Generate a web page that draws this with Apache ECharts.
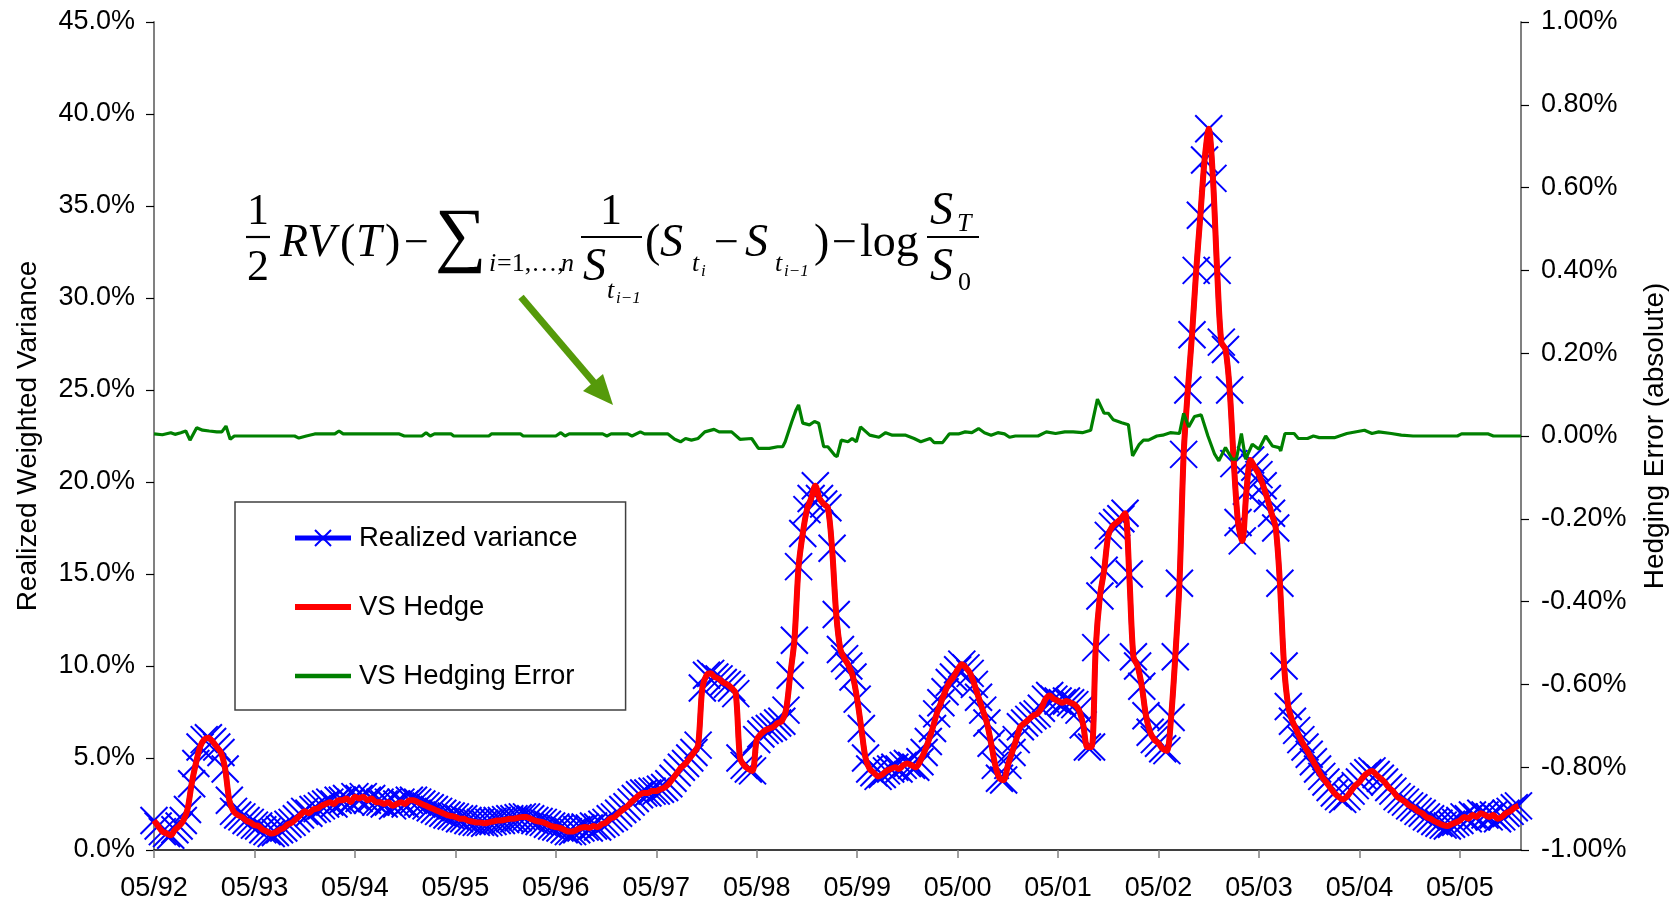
<!DOCTYPE html>
<html>
<head>
<meta charset="utf-8">
<script src="https://cdn.jsdelivr.net/npm/echarts@6/dist/echarts.min.js"></script>
<style>html,body{margin:0;padding:0;background:#fff}#c{width:1677px;height:906px}</style>
</head>
<body>
<div id="c"></div>
<script>
// ---------------- DATA ----------------
// x = months since May 1992; realized variance sampled every half month (values in %)
const rvStartMonth = 0;
const rvStepMonths = 0.5;
const realizedVariance = [
  // 05/92 - 04/93
  1.6,1.3,1.0,0.9,0.8,1.1,1.3,1.6,2.2,3.6,4.7,5.6,6.0,6.1,5.9,5.6,5.3,4.4,2.7,2.1,1.9,1.8,1.6,1.5,
  // 05/93 - 04/94
  1.35,1.3,1.1,1.0,0.9,0.95,1.1,1.2,1.4,1.5,1.7,1.9,2.1,2.0,2.2,2.25,2.4,2.5,2.6,2.5,2.7,2.7,2.8,2.6,
  // 05/94 - 04/95
  2.9,2.8,2.9,2.7,2.8,2.6,2.6,2.5,2.6,2.4,2.5,2.6,2.5,2.7,2.7,2.6,2.5,2.4,2.3,2.2,2.1,2.0,1.9,1.85,
  // 05/95 - 04/96
  1.8,1.7,1.7,1.6,1.55,1.5,1.5,1.45,1.5,1.55,1.6,1.6,1.65,1.7,1.7,1.75,1.8,1.8,1.7,1.6,1.55,1.5,1.4,1.3,
  // 05/96 - 04/97
  1.25,1.2,1.1,1.0,1.0,1.1,1.2,1.25,1.2,1.3,1.25,1.4,1.5,1.7,1.8,2.0,2.2,2.35,2.6,2.8,3.0,3.1,3.1,3.2,
  // 05/97 - 04/98
  3.2,3.3,3.4,3.6,3.9,4.2,4.5,4.7,5.0,5.3,5.7,8.8,9.5,9.6,9.4,9.3,9.1,9.0,8.8,8.5,5.0,4.6,4.4,4.3,
  // 05/98 - 04/99
  6.0,6.3,6.5,6.6,6.7,6.9,7.0,7.6,9.5,11.4,15.4,17.2,18.5,19.1,19.8,19.1,18.8,18.6,16.4,12.8,10.9,10.4,10.0,9.4,
  // 05/99 - 04/00
  8.2,6.6,5.0,4.4,4.2,4.0,4.1,4.3,4.4,4.5,4.4,4.6,4.7,4.6,4.5,4.8,5.3,5.9,6.6,7.4,8.0,8.6,9.1,9.4,
  // 05/00 - 04/01
  9.8,10.1,9.9,9.6,9.0,8.3,7.6,6.9,5.8,4.6,3.9,3.8,4.6,5.3,6.0,6.7,6.9,7.1,7.3,7.4,7.7,8.2,8.4,8.2,
  // 05/01 - 04/02
  8.1,8.0,8.1,8.0,7.9,7.6,6.8,5.6,5.6,11.0,13.8,15.2,17.1,17.6,17.8,18.0,18.3,15.0,10.5,10.0,8.9,7.3,6.4,6.0,
  // 05/02 - 04/03
  5.8,5.5,5.4,7.2,10.5,14.5,21.5,25.0,28.0,31.5,34.5,37.5,39.2,36.5,31.5,27.6,27.2,25.0,21.0,17.8,16.8,19.5,21.2,20.8,
  // 05/03 - 04/04
  20.4,19.8,19.1,18.3,17.5,14.5,10.0,7.8,7.0,6.5,6.0,5.6,5.2,4.8,4.4,4.0,3.7,3.4,3.1,2.9,2.75,2.9,3.2,3.5,
  // 05/04 - 04/05
  3.7,4.0,4.2,4.3,4.1,3.9,3.7,3.4,3.2,2.9,2.75,2.6,2.4,2.3,2.1,2.0,1.8,1.7,1.55,1.45,1.35,1.3,1.4,1.5,
  // 05/05 - 12/05
  1.6,1.8,1.7,1.9,1.8,2.0,1.9,1.8,1.9,1.7,1.8,2.0,2.1,2.3,2.4
];
// The VS hedge curve coincides with the realized variance at this scale
const vsHedge = realizedVariance;

// Hedging error (right axis, %), months since May 1992
const errMonths = [0,1,2,2.5,3.2,3.8,4.3,5.1,5.8,6.6,7.5,8.1,8.6,9.1,9.6,16.8,17.3,18.2,19.2,21.6,22.1,22.6,29.3,29.9,32,32.5,33,33.5,35.5,35.8,40,40.3,43.8,44.1,48,48.6,49.1,49.6,53.6,54.1,54.6,56.6,57.1,58.1,58.6,61.4,62.2,62.9,63.5,64.2,65,65.8,66.9,67.5,69,70,71.4,72.2,73.5,74.5,75.1,75.4,76.2,76.7,77,77.5,78.3,78.9,79.4,80,80.5,81.3,81.6,82.1,82.9,83.4,83.9,84.4,85.5,86.6,87.4,88.2,89.8,90.8,91.6,92.7,93.2,94.2,95,96.1,96.9,97.7,98.5,99.2,100,100.8,101.6,102.2,102.9,105.6,106.6,107.7,108.8,109.8,110.9,111.9,112.7,113.5,114,114.6,115.6,116.4,116.9,117.7,118.2,118.8,119.8,120.5,121.4,122.5,123,123.6,124.3,125.1,125.9,126.7,127.2,128,128.8,129.3,129.9,130.4,131.2,132,132.8,133.6,134.4,134.6,135.1,136.2,136.7,137.8,138.5,139.2,141,142.5,144.6,145.5,146.3,147.8,149,150.4,155.7,156.2,159.4,160,163.3];
const errValues = [0.005,0.003,0.008,0.004,0.008,0.012,-0.01,0.02,0.014,0.012,0.01,0.01,0.024,-0.008,0,0,-0.005,0,0.005,0.005,0.012,0.005,0.005,0,0,0.008,0,0.005,0.005,0,0,0.005,0.005,0,0,0.008,0,0.005,0.005,0,0.005,0.005,0,0.01,0.005,0.005,-0.008,-0.014,-0.006,-0.01,-0.006,0.01,0.016,0.01,0.01,-0.008,-0.006,-0.03,-0.03,-0.026,-0.026,-0.014,0.035,0.063,0.075,0.031,0.027,0.035,0.031,-0.026,-0.026,-0.046,-0.05,-0.01,-0.014,-0.006,-0.014,0.022,0.002,-0.003,0.008,0.002,0.002,-0.006,-0.014,-0.006,-0.016,-0.016,0.005,0.005,0.01,0.008,0.018,0.008,0.002,0.008,0.005,-0.003,0,0,0.01,0.006,0.01,0.01,0.008,0.014,0.089,0.055,0.055,0.039,0.032,0.027,-0.048,-0.02,-0.01,-0.01,0,0.002,0.008,0.006,0.055,0.022,0.047,0.051,0,-0.044,-0.06,-0.028,-0.056,-0.056,0.006,-0.056,-0.02,-0.032,0,-0.024,-0.028,-0.036,0.006,0.006,-0.006,-0.006,0,-0.004,-0.004,0.006,0.014,0.006,0.01,0.006,0.002,0,0,0.005,0.005,0,0];

const xTickLabels = ['05/92','05/93','05/94','05/95','05/96','05/97','05/98','05/99','05/00','05/01','05/02','05/03','05/04','05/05'];
const seriesNames = ['Realized variance','VS Hedge','VS Hedging Error'];

// ---------------- CHART ----------------
const SANS = '"Liberation Sans", Arial, sans-serif';
const SERIF = '"Liberation Serif", "Times New Roman", serif';

const rvData = realizedVariance.map((v, i) => [rvStartMonth + i * rvStepMonths, v]);
const hedgeData = vsHedge.map((v, i) => [rvStartMonth + i * rvStepMonths, v]);
const errData = errMonths.map((m, i) => [m, errValues[i]]);

function T(text, x, y, size, italic, align) {
  const a = align || 'left';
  return {type: 'text', x: x, y: y, z: 100,
    style: {text: text, font: (italic ? 'italic ' : '') + size + 'px ' + SERIF, fill: '#000',
      align: a, verticalAlign: 'middle', textAlign: a, textVerticalAlign: 'middle'}};
}
function L(x1, y1, x2, y2, w, c) {
  return {type: 'line', z: 100, shape: {x1, y1, x2, y2}, style: {stroke: c || '#000', lineWidth: w}};
}

const formula = [
  T('1', 258, 212, 44, false, 'center'),
  L(246, 237, 270, 237, 2.2),
  T('2', 258, 268, 44, false, 'center'),
  T('RV', 280, 244, 46, true),
  T('(', 340, 244, 46, false),
  T('T', 356, 244, 46, true),
  T(')', 385, 244, 46, false),
  T('\u2212', 404, 244, 44, false),
  T('\u2211', 435, 239, 72, false),
  T('i', 489, 264, 26, true),
  T('=1,\u2026,', 497, 264, 26, false),
  T('n', 561, 264, 26, true),
  T('1', 611, 212, 44, false, 'center'),
  L(581, 237, 642, 237, 2.2),
  T('S', 583, 268, 46, true),
  T('t', 607, 291, 26, true),
  T('i\u22121', 616, 299, 17, true),
  T('(', 645, 244, 46, false),
  T('S', 660, 244, 46, true),
  T('t', 692, 264, 26, true),
  T('i', 701, 272, 17, true),
  T('\u2212', 714, 244, 44, false),
  T('S', 745, 244, 46, true),
  T('t', 775, 264, 26, true),
  T('i\u22121', 784, 272, 17, true),
  T(')', 814, 244, 46, false),
  T('\u2212', 832, 244, 44, false),
  T('log', 860, 244, 46, false),
  T('S', 930, 212, 46, true),
  T('T', 957, 224, 26, true),
  L(927, 237, 979, 237, 2.2),
  T('S', 930, 268, 46, true),
  T('0', 958, 283, 26, false)
];

// green arrow
const arrowColor = '#559A0A';
const arrow = [
  L(521, 297, 596, 385, 7, arrowColor),
  {type: 'polygon', z: 100, shape: {points: [[613, 405], [583, 391], [603, 374]]}, style: {fill: arrowColor}}
];

const chart = echarts.init(document.getElementById('c'), null, {renderer: 'canvas'});
chart.setOption({
  animation: false,
  backgroundColor: '#fff',
  textStyle: {fontFamily: SANS},
  grid: {left: 154, right: 154, top: 22, bottom: 56, containLabel: false},
  legend: {
    orient: 'vertical', left: 235, top: 502,
    padding: [22, 48, 20, 57],
    itemGap: 41, itemWidth: 56, itemHeight: 20,
    backgroundColor: '#fff', borderColor: '#404040', borderWidth: 1.5, borderRadius: 0,
    textStyle: {fontSize: 27.5, color: '#000', fontFamily: SANS, padding: [0, 0, 0, 3]},
    data: [
      {name: seriesNames[0], lineStyle: {width: 5, color: '#0000FF'}},
      {name: seriesNames[1], lineStyle: {width: 6, color: '#FF0000'}, itemStyle: {opacity: 0}},
      {name: seriesNames[2], lineStyle: {width: 4.5, color: '#008000'}, itemStyle: {opacity: 0}}
    ]
  },
  xAxis: {
    type: 'value', min: 0, max: 163.3, interval: 12,
    axisLine: {show: true, onZero: false, lineStyle: {color: '#000', width: 1.5}},
    axisTick: {show: true, length: 8, lineStyle: {color: '#808080', width: 1.5}},
    axisLabel: {
      formatter: v => { const k = Math.round(v / 12); return (Math.abs(v - k * 12) < 1e-6 && xTickLabels[k]) ? xTickLabels[k] : ''; },
      showMaxLabel: false, margin: 25, fontSize: 27, color: '#000', fontFamily: SANS
    },
    splitLine: {show: false}
  },
  yAxis: [
    {
      type: 'value', position: 'left', min: 0, max: 45, interval: 5,
      name: 'Realized Weighted Variance', nameLocation: 'middle', nameGap: 112, nameRotate: 90,
      nameTextStyle: {fontSize: 28, color: '#000', fontFamily: SANS},
      axisLine: {show: true, lineStyle: {color: '#808080', width: 2}},
      axisTick: {show: true, length: 8, lineStyle: {color: '#000', width: 1.2}},
      axisLabel: {formatter: v => v.toFixed(1) + '%', margin: 19, fontSize: 27, color: '#000', fontFamily: SANS},
      splitLine: {show: false}
    },
    {
      type: 'value', position: 'right', min: -1, max: 1, interval: 0.2,
      name: 'Hedging Error (absolute)', nameLocation: 'middle', nameGap: 120, nameRotate: 90,
      nameTextStyle: {fontSize: 28, color: '#000', fontFamily: SANS},
      axisLine: {show: true, lineStyle: {color: '#808080', width: 2}},
      axisTick: {show: true, length: 8, lineStyle: {color: '#000', width: 1.2}},
      axisLabel: {formatter: v => (Math.abs(v) < 1e-9 ? 0 : v).toFixed(2) + '%', margin: 20, fontSize: 27, color: '#000', fontFamily: SANS},
      splitLine: {show: false}
    }
  ],
  graphic: formula.concat(arrow),
  series: [
    {
      name: seriesNames[0], type: 'line', yAxisIndex: 0, data: rvData, smooth: 0.3,
      symbol: 'path://M0,0L20,20M20,0L0,20', symbolSize: 27, showAllSymbol: true,
      itemStyle: {color: '#0000FF', borderColor: '#0000FF', borderWidth: 2},
      lineStyle: {color: '#0000FF', width: 5}, z: 2, emphasis: {disabled: true}
    },
    {
      name: seriesNames[1], type: 'line', yAxisIndex: 0, data: hedgeData, smooth: 0.3,
      symbol: 'none', showSymbol: false,
      itemStyle: {color: '#FF0000'}, lineStyle: {color: '#FF0000', width: 6}, z: 3, emphasis: {disabled: true}
    },
    {
      name: seriesNames[2], type: 'line', yAxisIndex: 1, data: errData,
      symbol: 'none', showSymbol: false,
      itemStyle: {color: '#008000'}, lineStyle: {color: '#008000', width: 3.2}, z: 4, emphasis: {disabled: true}
    }
  ]
});
</script>
</body>
</html>
